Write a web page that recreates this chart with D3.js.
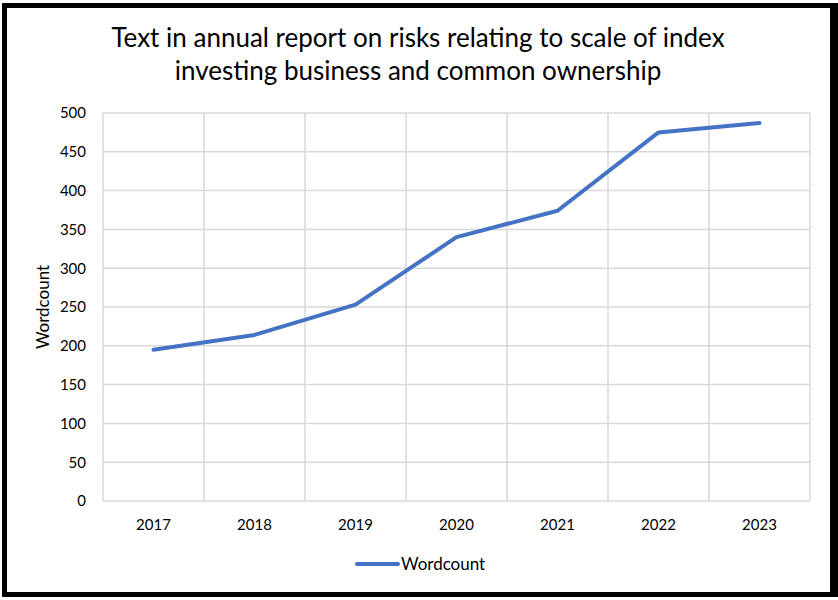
<!DOCTYPE html>
<html>
<head>
<meta charset="utf-8">
<script src="https://cdn.jsdelivr.net/npm/d3@7"></script>
<style>
  body { margin: 0; background: #fff; }
  text { font-family: Lato, "Open Sans", sans-serif; fill: #000; }
</style>
</head>
<body>
<div id="chart"></div>
<script>
const years = ["2017", "2018", "2019", "2020", "2021", "2022", "2023"];
const wordcount = [195, 214, 253, 340, 374, 475, 487];
const yTicks = [0, 50, 100, 150, 200, 250, 300, 350, 400, 450, 500];
const titleLines = ["Text in annual report on risks relating to scale of index",
                    "investing business and common ownership"];
const seriesName = "Wordcount";

const width = 838, height = 600;
const margin = { top: 113, right: 28, bottom: 99, left: 103 };

const svg = d3.select("#chart").append("svg")
  .attr("width", width).attr("height", height);

// outer black frame
svg.append("path")
  .attr("d", "M2,3H838V597H2Z M7,8V592H830V8Z")
  .attr("fill", "#000")
  .attr("fill-rule", "evenodd");

const x = d3.scaleBand()
  .domain(years)
  .range([margin.left, width - margin.right]);

const y = d3.scaleLinear()
  .domain([0, 500])
  .range([height - margin.bottom, margin.top]);

// horizontal gridlines
svg.append("g").selectAll("line")
  .data(yTicks)
  .enter().append("line")
  .attr("x1", margin.left).attr("x2", width - margin.right)
  .attr("y1", d => y(d)).attr("y2", d => y(d))
  .attr("stroke", "#d9d9d9").attr("stroke-width", 1.5);

// vertical gridlines at category boundaries
const bounds = years.map(d => x(d)).concat([x(years[years.length - 1]) + x.bandwidth()]);
svg.append("g").selectAll("line")
  .data(bounds)
  .enter().append("line")
  .attr("x1", d => d).attr("x2", d => d)
  .attr("y1", y(500)).attr("y2", y(0))
  .attr("stroke", "#d9d9d9").attr("stroke-width", 1.5);

// y axis labels
const yAxis = d3.axisLeft(y).tickValues(yTicks).tickSize(0).tickPadding(17);
svg.append("g")
  .attr("transform", `translate(${margin.left},0)`)
  .call(yAxis)
  .call(g => g.select(".domain").remove())
  .call(g => g.selectAll("text").style("font-size", "15px").attr("fill", "#000")
    .style("font-family", "Lato, 'Open Sans', sans-serif"));

// x axis labels
const xAxis = d3.axisBottom(x).tickSize(0).tickPadding(18);
svg.append("g")
  .attr("transform", `translate(0,${y(0)})`)
  .call(xAxis)
  .call(g => g.select(".domain").remove())
  .call(g => g.selectAll("text").style("font-size", "15px").attr("fill", "#000")
    .style("font-family", "Lato, 'Open Sans', sans-serif"));

// line
const line = d3.line()
  .x((d, i) => x(years[i]) + x.bandwidth() / 2)
  .y(d => y(d));

svg.append("path")
  .datum(wordcount)
  .attr("d", line)
  .attr("fill", "none")
  .attr("stroke", "#4472c4")
  .attr("stroke-width", 4)
  .attr("stroke-linejoin", "round")
  .attr("stroke-linecap", "round");

// title
svg.append("g").selectAll("text")
  .data(titleLines)
  .enter().append("text")
  .attr("x", width / 2 - 1)
  .attr("y", (d, i) => 47 + i * 33)
  .attr("text-anchor", "middle")
  .style("font-size", "26px")
  .text(d => d);

// y axis title
svg.append("text")
  .attr("transform", `translate(49,${(y(0) + y(500)) / 2}) rotate(-90)`)
  .attr("text-anchor", "middle")
  .style("font-size", "17px")
  .text(seriesName);

// legend
const legend = svg.append("g").attr("transform", "translate(357,564)");
legend.append("line")
  .attr("x1", 0).attr("x2", 41)
  .attr("stroke", "#4472c4").attr("stroke-width", 4)
  .attr("stroke-linecap", "round");
legend.append("text")
  .attr("x", 44).attr("y", 6)
  .style("font-size", "17px")
  .text(seriesName);
</script>
</body>
</html>
